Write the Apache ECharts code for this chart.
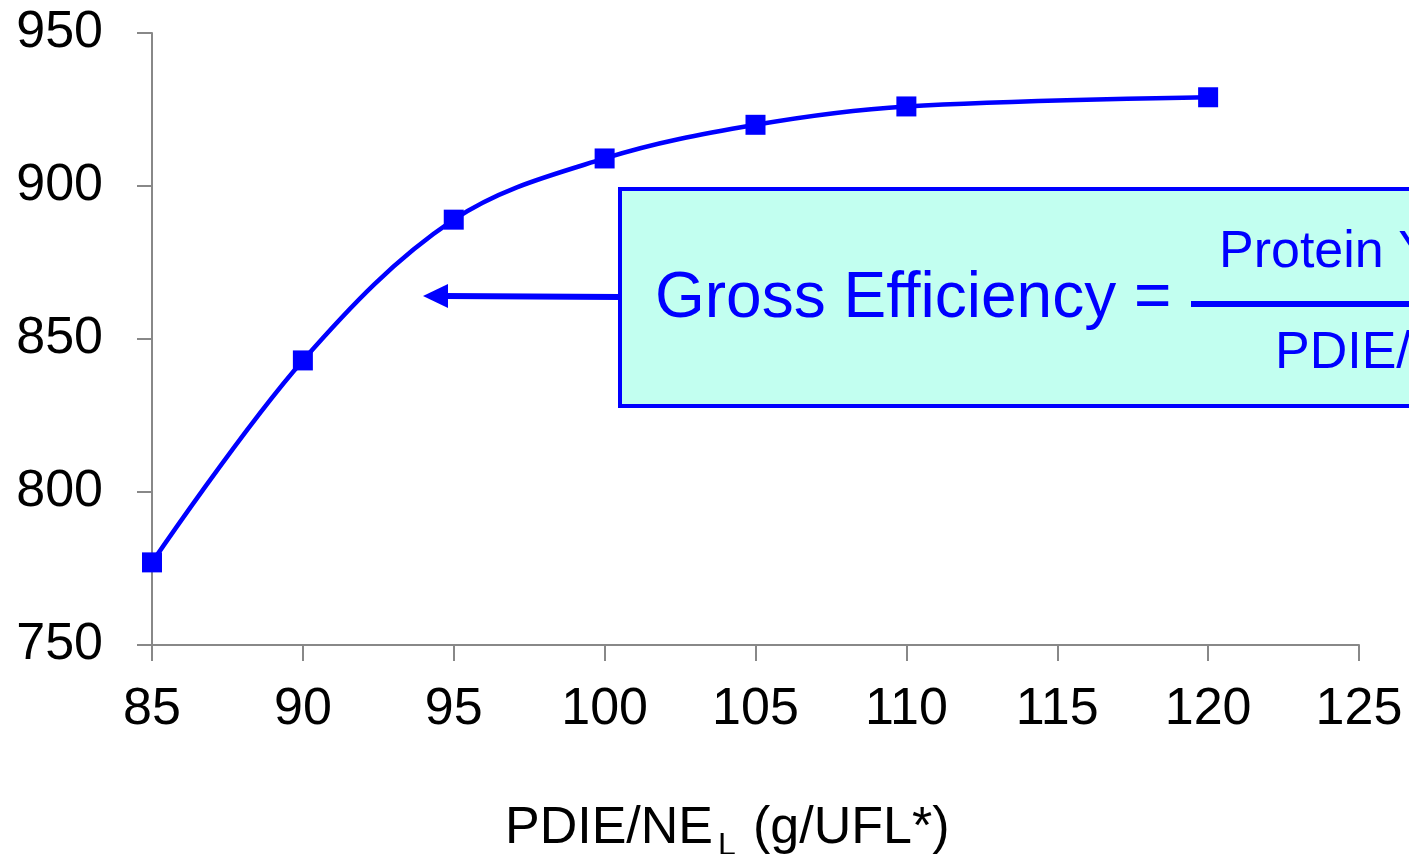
<!DOCTYPE html>
<html>
<head>
<meta charset="utf-8">
<title>Gross efficiency vs PDIE/NEL</title>
<script src="https://cdn.jsdelivr.net/npm/echarts@6/dist/echarts.min.js"></script>
<style>
  html, body { margin: 0; padding: 0; background: #fff; }
  #main { width: 1409px; height: 854px; }
</style>
</head>
<body>
<div id="main"></div>
<script>
// values
var pdieNel = [85, 90, 95, 100, 105, 110, 120];
var grossEff = [777, 843, 889, 909, 920, 926, 929];
var xTicks = [85, 125, 5];   // min, max, step
var yTicks = [750, 950, 50];

var blue = '#0000FF';
var axisGrey = '#888888';
var font = '"Liberation Sans", Arial, sans-serif';

var chart = echarts.init(document.getElementById('main'));

var points = pdieNel.map(function (x, i) { return [x, grossEff[i]]; });

var option = {
  backgroundColor: '#ffffff',
  animation: false,
  grid: { left: 152, top: 33, right: 50, bottom: 209 },
  xAxis: {
    type: 'value',
    min: xTicks[0], max: xTicks[1], interval: xTicks[2],
    axisLine: { lineStyle: { color: axisGrey, width: 2 } },
    axisTick: { show: true, length: 16, lineStyle: { color: axisGrey, width: 2 } },
    axisLabel: { color: '#000', fontSize: 52, fontFamily: font, margin: 39 },
    splitLine: { show: false }
  },
  yAxis: {
    type: 'value',
    min: yTicks[0], max: yTicks[1], interval: yTicks[2],
    axisLine: { show: true, lineStyle: { color: axisGrey, width: 2 } },
    axisTick: { show: true, length: 15, lineStyle: { color: axisGrey, width: 2 } },
    axisLabel: { color: '#000', fontSize: 52, fontFamily: font, margin: 49 },
    splitLine: { show: false }
  },
  series: [{
    type: 'line',
    data: points,
    smooth: 0.35,
    symbol: 'rect',
    symbolSize: 20,
    lineStyle: { color: blue, width: 4.5 },
    itemStyle: { color: blue },
    z: 3
  }],
  graphic: [
    // arrow pointing at the curve
    { type: 'line', shape: { x1: 620, y1: 297, x2: 444, y2: 296 },
      style: { stroke: blue, lineWidth: 6 }, z: 10 },
    { type: 'polygon', shape: { points: [[423, 296], [448, 284], [448, 308]] },
      style: { fill: blue }, z: 10 },
    // formula box
    { type: 'rect', shape: { x: 620, y: 189, width: 1000, height: 217 },
      style: { fill: '#C2FFF0', stroke: blue, lineWidth: 4 }, z: 11 },
    { type: 'text', left: 655, top: 267, z: 12,
      style: { text: 'Gross Efficiency =', fill: blue, font: '64px ' + font } },
    { type: 'rect', shape: { x: 1191, y: 301, width: 400, height: 6 },
      style: { fill: blue }, z: 12 },
    { type: 'text', left: 1219, top: 227, z: 12,
      style: { text: 'Protein Yield', fill: blue, font: '52px ' + font } },
    { type: 'text', left: 1275, top: 328, z: 12,
      style: { text: 'PDIE/NEL', fill: blue, font: '52px ' + font } },
    // x axis title with subscript L
    { type: 'text', left: 505, top: 803, z: 12,
      style: { text: 'PDIE/NE', fill: '#000', font: '52px ' + font } },
    { type: 'text', left: 718, top: 830, z: 12,
      style: { text: 'L', fill: '#000', font: '32px ' + font } },
    { type: 'text', left: 753, top: 803, z: 12,
      style: { text: '(g/UFL*)', fill: '#000', font: '52px ' + font } }
  ]
};

chart.setOption(option);
window.addEventListener('resize', function () { chart.resize(); });
</script>
</body>
</html>
